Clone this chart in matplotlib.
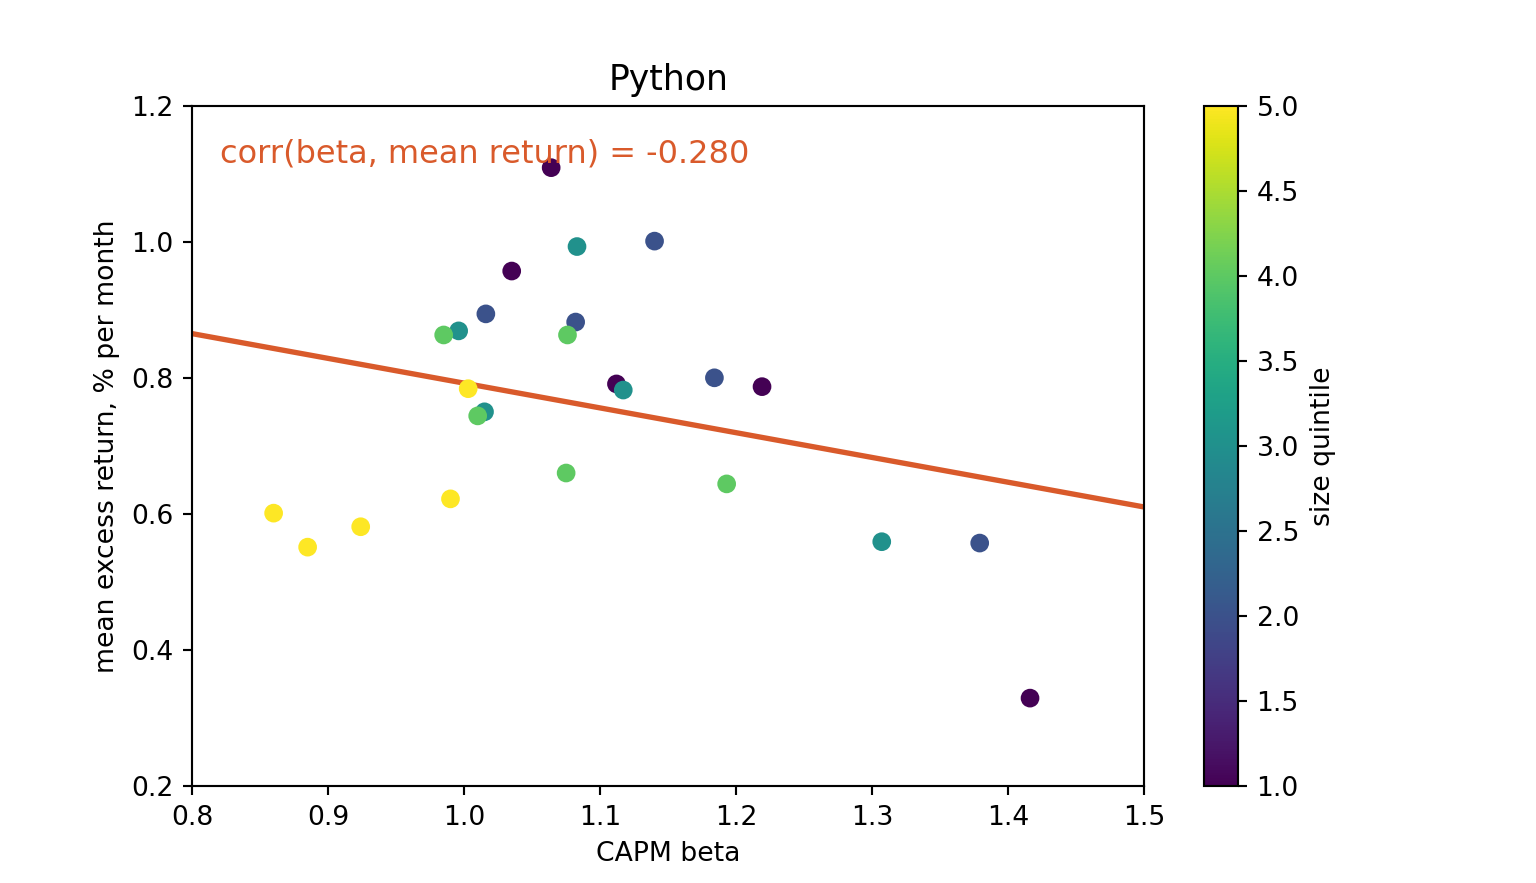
import numpy as np
import matplotlib
matplotlib.use("Agg")
import matplotlib.pyplot as plt

# CAPM beta, mean excess return (% per month), size quintile
beta = [1.064, 1.035, 1.112, 1.219, 1.416,
        1.140, 1.016, 1.082, 1.184, 1.379,
        1.083, 0.996, 1.117, 1.015, 1.307,
        0.985, 1.076, 1.010, 1.075, 1.193,
        1.003, 0.860, 0.885, 0.924, 0.990]
mean_ret = [1.109, 0.957, 0.791, 0.787, 0.329,
            1.001, 0.894, 0.882, 0.800, 0.557,
            0.993, 0.869, 0.782, 0.750, 0.559,
            0.863, 0.863, 0.744, 0.660, 0.644,
            0.784, 0.601, 0.551, 0.581, 0.622]
size_q = [1]*5 + [2]*5 + [3]*5 + [4]*5 + [5]*5

# fitted line endpoints
line_x = [0.8, 1.5]
line_y = [0.865, 0.610]

orange = "#d95a2b"

fig = plt.figure(figsize=(8, 4.6), dpi=192)
ax = fig.add_subplot(111)
sc = ax.scatter(beta, mean_ret, c=size_q, cmap="viridis", vmin=1, vmax=5, zorder=3)
ax.plot(line_x, line_y, color=orange, lw=2, zorder=2)
ax.text(0.029, 0.93, "corr(beta, mean return) = -0.280", transform=ax.transAxes,
        color=orange, fontsize=12, va="center")
ax.set_xlim(0.8, 1.5)
ax.set_ylim(0.2, 1.2)
ax.set_xlabel("CAPM beta")
ax.set_ylabel("mean excess return, % per month")
ax.set_title("Python", fontsize=13)
cb = fig.colorbar(sc, ax=ax)
cb.set_label("size quintile")
fig.savefig("out.png", dpi=192)
